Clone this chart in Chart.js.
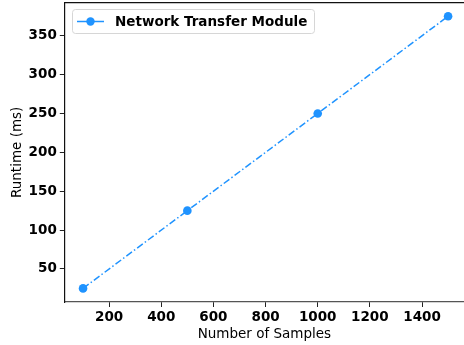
<!DOCTYPE html>
<html>
<head>
<meta charset="utf-8">
<script src="https://cdn.jsdelivr.net/npm/chart.js@4/dist/chart.umd.min.js"></script>
<style>
  html, body { margin: 0; padding: 0; background: #fff; overflow: hidden; }
  #wrap { width: 464px; height: 345px; }
</style>
</head>
<body>
<div id="wrap"><canvas id="c" width="464" height="345"></canvas></div>
<script>
// Runtime of the network transfer module versus sample count
const seriesLabel = 'Network Transfer Module';
const samples = [100, 500, 1000, 1500];
const runtimeMs = [25, 125, 250, 375];
const xTicks = [200, 400, 600, 800, 1000, 1200, 1400];
const yTicks = [50, 100, 150, 200, 250, 300, 350];

const lineColor = '#1f93ff';
const fontFamily = '"DejaVu Sans", "Liberation Sans", sans-serif';
const fontSize = 13.5;

// Top spine plus an in-plot legend
const framePlugin = {
  id: 'frame',
  afterDatasetsDraw(chart) {
    const { ctx, chartArea: a } = chart;
    ctx.save();
    ctx.strokeStyle = '#111';
    ctx.lineWidth = 1.2;
    ctx.beginPath();
    ctx.moveTo(a.left, a.top);
    ctx.lineTo(a.right, a.top);
    ctx.stroke();

    // legend box
    const bx = 72, by = 9, bw = 242, bh = 24, r = 3;
    ctx.beginPath();
    ctx.roundRect(bx + 0.5, by + 0.5, bw, bh, r);
    ctx.fillStyle = 'rgba(255,255,255,0.8)';
    ctx.fill();
    ctx.strokeStyle = '#d6d6d6';
    ctx.lineWidth = 1;
    ctx.stroke();

    const ly = by + bh / 2 + 0.5;
    ctx.strokeStyle = lineColor;
    ctx.lineWidth = 1.5;
    ctx.beginPath();
    ctx.moveTo(77, ly);
    ctx.lineTo(104, ly);
    ctx.stroke();
    ctx.fillStyle = lineColor;
    ctx.beginPath();
    ctx.arc(90.5, ly, 4.2, 0, Math.PI * 2);
    ctx.fill();

    ctx.fillStyle = '#000';
    ctx.font = 'bold ' + fontSize + 'px ' + fontFamily;
    ctx.textBaseline = 'middle';
    ctx.textAlign = 'left';
    ctx.fillText(chart.data.datasets[0].label, 115, ly + 0.5);
    ctx.restore();
  }
};

new Chart(document.getElementById('c'), {
  type: 'line',
  data: {
    datasets: [{
      label: seriesLabel,
      data: samples.map((s, i) => ({ x: s, y: runtimeMs[i] })),
      borderColor: lineColor,
      backgroundColor: lineColor,
      borderWidth: 1.5,
      borderDash: [7, 2.5, 1.5, 2.5],
      pointRadius: 4.3,
      pointBorderWidth: 0,
      pointBackgroundColor: lineColor,
      fill: false,
      tension: 0,
      clip: false
    }]
  },
  options: {
    responsive: false,
    animation: false,
    layout: { autoPadding: false, padding: { top: 2.7, right: 0, left: 0, bottom: 0 } },
    plugins: { legend: { display: false }, tooltip: { enabled: false } },
    scales: {
      x: {
        type: 'linear',
        min: 30,
        max: 1561,
        afterBuildTicks(s) { s.ticks = xTicks.map(v => ({ value: v })); },
        afterFit(s) { s.height = 43; s.paddingLeft = 0; s.paddingRight = 0; },
        grid: { drawOnChartArea: false, drawTicks: true, tickLength: 5, tickColor: '#222' },
        border: { display: true, color: '#555', width: 1.2 },
        ticks: {
          color: '#000',
          padding: 2,
          maxRotation: 0,
          callback: v => String(v),
          font: { family: fontFamily, size: fontSize, weight: 'bold' }
        },
        title: {
          display: true,
          text: 'Number of Samples',
          color: '#000',
          padding: { top: 0, bottom: 2 },
          font: { family: fontFamily, size: fontSize }
        }
      },
      y: {
        min: 7.5,
        max: 392.5,
        afterBuildTicks(s) { s.ticks = yTicks.map(v => ({ value: v })); },
        afterFit(s) { s.width = 64.8; s.paddingTop = 0; s.paddingBottom = 0; },
        grid: { drawOnChartArea: false, drawTicks: true, tickLength: 5, tickColor: '#222' },
        border: { display: true, color: '#111', width: 1.2 },
        ticks: {
          color: '#000',
          padding: 3,
          callback: v => String(v),
          font: { family: fontFamily, size: fontSize, weight: 'bold' }
        },
        title: {
          display: true,
          text: 'Runtime (ms)',
          color: '#000',
          padding: { top: 9, bottom: 0 },
          font: { family: fontFamily, size: fontSize }
        }
      }
    }
  },
  plugins: [framePlugin]
});
</script>
</body>
</html>
